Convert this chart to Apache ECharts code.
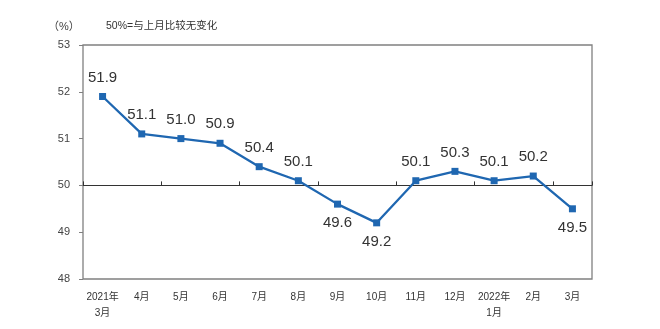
<!DOCTYPE html>
<html><head><meta charset="utf-8">
<script src="https://cdn.jsdelivr.net/npm/echarts@6/dist/echarts.min.js"></script>
<style>html,body{margin:0;padding:0;background:#fff}#c{width:660px;height:329px}</style>
</head><body><div id="c"></div>
<script>
const categories = ['2021年\n3月','4月','5月','6月','7月','8月','9月','10月','11月','12月','2022年\n1月','2月','3月'];
const values = [51.9, 51.1, 51.0, 50.9, 50.4, 50.1, 49.6, 49.2, 50.1, 50.3, 50.1, 50.2, 49.5];
const belowIdx = [6, 7, 12];
const yMin = 48, yMax = 53, yInterval = 1, refValue = 50;
const unitLabel = '（%）';
const subtitle = '50%=与上月比较无变化';

const gridTop = 45, gridBottom = 50, gridH = 329 - gridTop - gridBottom;
const refOffset = -gridH * (refValue - yMin) / (yMax - yMin);
const font = 'Arial, "Liberation Sans", "Noto Sans CJK SC", sans-serif';

const chart = echarts.init(document.getElementById('c'));
chart.setOption({
  animation: false,
  backgroundColor: '#fff',
  textStyle: {fontFamily: font},
  graphic: [
    {type: 'text', left: 48, top: 21, style: {text: unitLabel, fontSize: 11, fill: '#444', fontFamily: font}},
    {type: 'text', left: 106, top: 21, style: {text: subtitle, fontSize: 10.5, fill: '#333', fontFamily: font}}
  ],
  grid: {left: 83, right: 68, top: gridTop, bottom: gridBottom, show: true, borderColor: '#808080', borderWidth: 1.3},
  xAxis: [
    {type: 'category', data: categories, boundaryGap: true, position: 'bottom',
     axisLine: {show: false}, axisTick: {show: false},
     axisLabel: {fontSize: 10, color: '#333', margin: 10, lineHeight: 16, interval: 0, fontFamily: font}},
    {type: 'category', data: categories, boundaryGap: true, position: 'bottom', offset: refOffset,
     axisLine: {show: true, lineStyle: {color: '#333', width: 1}},
     axisTick: {show: true, inside: true, length: 4, lineStyle: {color: '#333'}},
     axisLabel: {show: false}}
  ],
  yAxis: {type: 'value', min: yMin, max: yMax, interval: yInterval,
    axisLine: {show: false},
    axisTick: {show: true, length: 4, lineStyle: {color: '#808080'}},
    splitLine: {show: false},
    axisLabel: {fontSize: 11, color: '#444', margin: 13, fontFamily: font}},
  series: [{
    type: 'line', xAxisIndex: 0,
    data: values.map((v, i) => ({value: v, label: {position: belowIdx.includes(i) ? 'bottom' : 'top'}})),
    symbol: 'rect', symbolSize: 7, showAllSymbol: true,
    lineStyle: {color: '#1F67B1', width: 2.3},
    itemStyle: {color: '#1F67B1'},
    label: {show: true, fontSize: 15, color: '#333', distance: 8, fontFamily: font,
      formatter: p => p.value.toFixed(1)}
  }]
});
</script></body></html>
